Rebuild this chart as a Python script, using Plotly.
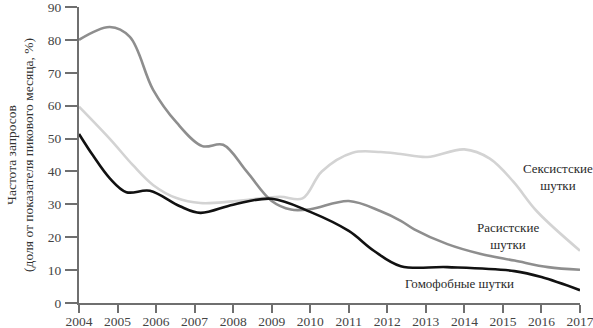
import plotly.graph_objects as go

# Search interest (share of peak month, %) by time, in decimal years
racist_x = [2004.0, 2004.8, 2005.32, 2005.92, 2006.53, 2007.2, 2007.74, 2008.35,
            2009.0, 2009.5, 2010.0, 2011.0, 2011.83, 2012.35, 2012.7, 2013.56,
            2014.43, 2015.3, 2016.17, 2017.0]
racist_y = [80.0, 83.9, 80.9, 64.9, 54.9, 47.7, 48.1, 40.0,
            31.0, 28.4, 28.5, 31.0, 27.9, 25.0, 22.4, 17.9,
            14.9, 12.9, 10.9, 10.1]

sexist_x = [2004.0, 2004.8, 2005.4, 2005.92, 2006.53, 2007.15, 2008.0, 2009.2,
            2009.8, 2010.3, 2011.1, 2011.83, 2012.35, 2013.04, 2014.0, 2014.66,
            2015.27, 2015.88, 2017.0]
sexist_y = [59.7, 49.9, 41.9, 35.9, 31.9, 30.4, 30.9, 32.3,
            31.8, 40.0, 45.7, 45.9, 45.3, 44.4, 46.7, 43.9,
            36.9, 27.9, 15.9]

homo_x = [2004.0, 2004.36, 2004.8, 2005.23, 2005.84, 2006.62, 2007.15,
          2008.0, 2009.0, 2010.0, 2011.0, 2011.65, 2012.35, 2013.56,
          2015.3, 2016.0, 2017.0]
homo_y = [51.4, 44.9, 37.9, 33.7, 34.1, 29.4, 27.4,
          29.9, 31.7, 27.7, 21.9, 15.9, 11.2, 10.9,
          9.7, 7.9, 3.9]

years = list(range(2004, 2018))
y_ticks = list(range(0, 100, 10))

FONT = "Liberation Serif"
AXIS = "#6f6f6f"
TICK_FONT = dict(family=FONT, size=13.5, color="#444444")

fig = go.Figure()
series = [
    (sexist_x, sexist_y, "#d3d3d3", "Сексистские шутки"),
    (racist_x, racist_y, "#8e8e8e", "Расистские шутки"),
    (homo_x, homo_y, "#111111", "Гомофобные шутки"),
]
for xs, ys, color, name in series:
    fig.add_trace(go.Scatter(
        x=xs, y=ys, mode="lines", name=name,
        line=dict(color=color, width=2.6, shape="spline", smoothing=1.0),
        hoverinfo="skip",
    ))

labels = [
    (2016.43, 38.3, "Сексистские<br>шутки"),
    (2015.13, 20.3, "Расистские<br>шутки"),
    (2013.88, 6.0, "Гомофобные шутки"),
]
for lx, ly, text in labels:
    fig.add_annotation(x=lx, y=ly, text=text, showarrow=False,
                       font=dict(family=FONT, size=13, color="#2a2a2a"),
                       xanchor="center", yanchor="middle", align="center")

# Two-line vertical axis title
fig.add_annotation(
    x=-0.118, y=0.5, xref="paper", yref="paper",
    text="Частота запросов<br>(доля от показателя пикового месяца, %)",
    textangle=-90, showarrow=False, xanchor="center", yanchor="middle",
    font=dict(family=FONT, size=13.5, color="#333333"),
)

fig.update_layout(
    width=593, height=328,
    margin=dict(l=79, r=13, t=7, b=25),
    paper_bgcolor="white", plot_bgcolor="white",
    showlegend=False,
    font=dict(family=FONT, size=13.5, color="#444444"),
    xaxis=dict(
        range=[2004, 2017], tickvals=years, ticktext=[str(y) for y in years],
        showgrid=False, zeroline=False, showline=True, linecolor=AXIS, linewidth=2,
        ticks="outside", ticklen=8, tickwidth=2, tickcolor=AXIS,
        tickfont=TICK_FONT, automargin=False, ticklabeloverflow="allow",
        ticklabelstandoff=-3,
    ),
    yaxis=dict(
        range=[0, 90], tickvals=y_ticks,
        showgrid=False, zeroline=False, showline=True, linecolor=AXIS, linewidth=2,
        ticks="outside", ticklen=12, tickwidth=2, tickcolor=AXIS,
        tickfont=TICK_FONT, automargin=False, ticklabelstandoff=1,
        ticklabeloverflow="allow",
    ),
)

fig.write_html("out.html")
